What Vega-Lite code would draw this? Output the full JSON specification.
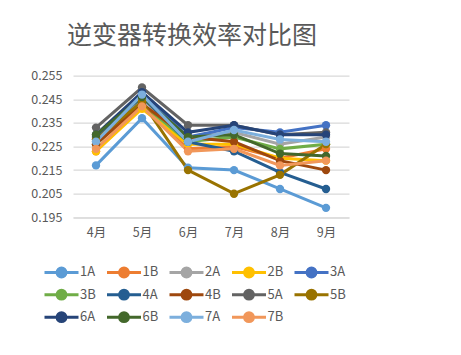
{
  "$schema": "https://vega.github.io/schema/vega-lite/v6.json",
  "autosize": "none",
  "width": 276,
  "height": 141.6,
  "padding": {"left": 73, "top": 75.7, "right": 112, "bottom": 137.7},
  "background": "white",
  "title": {
    "text": "逆变器转换效率对比图",
    "font": "Noto Sans CJK SC",
    "fontSize": 25,
    "fontWeight": "normal",
    "color": "#595959",
    "anchor": "middle",
    "frame": "group",
    "dx": -19,
    "offset": 21
  },
  "data": {
    "values": [
      {"m": "4月", "s": "1A", "v": 0.217}, {"m": "5月", "s": "1A", "v": 0.237}, {"m": "6月", "s": "1A", "v": 0.216}, {"m": "7月", "s": "1A", "v": 0.215}, {"m": "8月", "s": "1A", "v": 0.207}, {"m": "9月", "s": "1A", "v": 0.199},
      {"m": "4月", "s": "1B", "v": 0.223}, {"m": "5月", "s": "1B", "v": 0.242}, {"m": "6月", "s": "1B", "v": 0.224}, {"m": "7月", "s": "1B", "v": 0.225}, {"m": "8月", "s": "1B", "v": 0.220}, {"m": "9月", "s": "1B", "v": 0.224},
      {"m": "4月", "s": "2A", "v": 0.227}, {"m": "5月", "s": "2A", "v": 0.245}, {"m": "6月", "s": "2A", "v": 0.229}, {"m": "7月", "s": "2A", "v": 0.231}, {"m": "8月", "s": "2A", "v": 0.226}, {"m": "9月", "s": "2A", "v": 0.229},
      {"m": "4月", "s": "2B", "v": 0.223}, {"m": "5月", "s": "2B", "v": 0.241}, {"m": "6月", "s": "2B", "v": 0.226}, {"m": "7月", "s": "2B", "v": 0.226}, {"m": "8月", "s": "2B", "v": 0.220}, {"m": "9月", "s": "2B", "v": 0.219},
      {"m": "4月", "s": "3A", "v": 0.228}, {"m": "5月", "s": "3A", "v": 0.248}, {"m": "6月", "s": "3A", "v": 0.229}, {"m": "7月", "s": "3A", "v": 0.233}, {"m": "8月", "s": "3A", "v": 0.231}, {"m": "9月", "s": "3A", "v": 0.234},
      {"m": "4月", "s": "3B", "v": 0.226}, {"m": "5月", "s": "3B", "v": 0.243}, {"m": "6月", "s": "3B", "v": 0.227}, {"m": "7月", "s": "3B", "v": 0.229}, {"m": "8月", "s": "3B", "v": 0.224}, {"m": "9月", "s": "3B", "v": 0.226},
      {"m": "4月", "s": "4A", "v": 0.229}, {"m": "5月", "s": "4A", "v": 0.246}, {"m": "6月", "s": "4A", "v": 0.227}, {"m": "7月", "s": "4A", "v": 0.223}, {"m": "8月", "s": "4A", "v": 0.214}, {"m": "9月", "s": "4A", "v": 0.207},
      {"m": "4月", "s": "4B", "v": 0.226}, {"m": "5月", "s": "4B", "v": 0.243}, {"m": "6月", "s": "4B", "v": 0.229}, {"m": "7月", "s": "4B", "v": 0.227}, {"m": "8月", "s": "4B", "v": 0.219}, {"m": "9月", "s": "4B", "v": 0.215},
      {"m": "4月", "s": "5A", "v": 0.233}, {"m": "5月", "s": "5A", "v": 0.250}, {"m": "6月", "s": "5A", "v": 0.234}, {"m": "7月", "s": "5A", "v": 0.234}, {"m": "8月", "s": "5A", "v": 0.230}, {"m": "9月", "s": "5A", "v": 0.231},
      {"m": "4月", "s": "5B", "v": 0.228}, {"m": "5月", "s": "5B", "v": 0.244}, {"m": "6月", "s": "5B", "v": 0.215}, {"m": "7月", "s": "5B", "v": 0.205}, {"m": "8月", "s": "5B", "v": 0.213}, {"m": "9月", "s": "5B", "v": 0.226},
      {"m": "4月", "s": "6A", "v": 0.230}, {"m": "5月", "s": "6A", "v": 0.248}, {"m": "6月", "s": "6A", "v": 0.231}, {"m": "7月", "s": "6A", "v": 0.234}, {"m": "8月", "s": "6A", "v": 0.230}, {"m": "9月", "s": "6A", "v": 0.230},
      {"m": "4月", "s": "6B", "v": 0.230}, {"m": "5月", "s": "6B", "v": 0.246}, {"m": "6月", "s": "6B", "v": 0.229}, {"m": "7月", "s": "6B", "v": 0.230}, {"m": "8月", "s": "6B", "v": 0.222}, {"m": "9月", "s": "6B", "v": 0.221},
      {"m": "4月", "s": "7A", "v": 0.227}, {"m": "5月", "s": "7A", "v": 0.247}, {"m": "6月", "s": "7A", "v": 0.227}, {"m": "7月", "s": "7A", "v": 0.232}, {"m": "8月", "s": "7A", "v": 0.228}, {"m": "9月", "s": "7A", "v": 0.227},
      {"m": "4月", "s": "7B", "v": 0.224}, {"m": "5月", "s": "7B", "v": 0.242}, {"m": "6月", "s": "7B", "v": 0.223}, {"m": "7月", "s": "7B", "v": 0.224}, {"m": "8月", "s": "7B", "v": 0.217}, {"m": "9月", "s": "7B", "v": 0.219}
    ]
  },
  "encoding": {
    "x": {
      "field": "m", "type": "ordinal", "title": null,
      "sort": ["4月", "5月", "6月", "7月", "8月", "9月"],
      "scale": {"type": "point", "padding": 0.5},
      "axis": {"labelAngle": 0, "ticks": false, "domain": true, "domainColor": "#d9d9d9", "domainWidth": 1, "labelPadding": 9, "labelFont": "Noto Sans CJK SC", "labelFontSize": 12.5, "labelColor": "#595959", "grid": false}
    },
    "y": {
      "field": "v", "type": "quantitative", "title": null,
      "scale": {"domain": [0.195, 0.255], "nice": false, "zero": false},
      "axis": {"values": [0.195, 0.205, 0.215, 0.225, 0.235, 0.245, 0.255], "format": ".3f", "domain": false, "ticks": false, "labelPadding": 11, "labelFont": "Noto Sans CJK SC", "labelFontSize": 12.5, "labelColor": "#595959", "grid": true, "gridColor": "#d9d9d9", "gridWidth": 1.3}
    },
    "color": {
      "field": "s", "type": "nominal",
      "scale": {
        "domain": ["1A", "1B", "2A", "2B", "3A", "3B", "4A", "4B", "5A", "5B", "6A", "6B", "7A", "7B"],
        "range": ["#5B9BD5", "#ED7D31", "#A5A5A5", "#FFC000", "#4472C4", "#70AD47", "#255E91", "#9E480E", "#636363", "#997300", "#264478", "#43682B", "#7CAFDD", "#F1975A"]
      },
      "legend": {
        "orient": "none",
        "legendX": -21.5,
        "legendY": 186.5,
        "direction": "horizontal",
        "columns": 5,
        "title": null,
        "padding": 0,
        "symbolType": "M-2,0H2M-0.52,0A0.52,0.52,0,1,1,0.52,0A0.52,0.52,0,1,1,-0.52,0Z",
        "symbolSize": 289,
        "symbolStrokeWidth": 3,
        "labelFont": "Noto Sans CJK SC",
        "labelFontSize": 13,
        "labelColor": "#595959",
        "labelOffset": 8.5,
        "columnPadding": 4.5,
        "rowPadding": 0.5
      }
    }
  },
  "layer": [
    {"mark": {"type": "line", "strokeWidth": 3}},
    {"mark": {"type": "point", "filled": true, "opacity": 1, "size": 70}}
  ],
  "config": {
    "view": {"stroke": null}
  }
}
